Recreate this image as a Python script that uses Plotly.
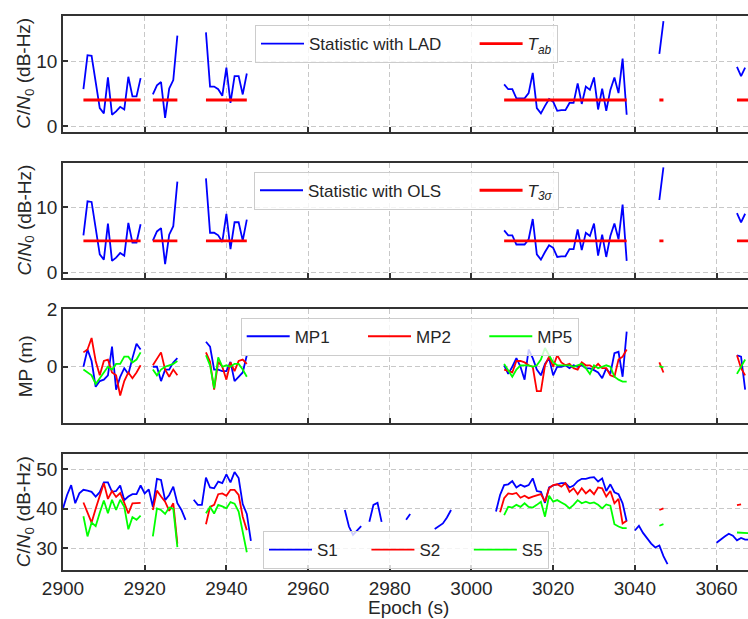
import plotly.graph_objects as go
from plotly.subplots import make_subplots

# ---------------- data ----------------
# Panel 1/2: detection statistic (same series in both panels)
stat_starts = [2905, 2922, 2935, 3008, 3046, 3065]
stat_values = [
    [5.7, 10.9, 10.8, 6.5, 2.8, 2.0, 7.5, 1.8, 2.3, 3.0, 2.6, 7.6, 4.6, 4.6, 7.4],
    [4.9, 6.3, 6.8, 1.3, 5.8, 7.1, 13.9],
    [14.4, 6.1, 6.1, 5.7, 4.7, 9.0, 3.6, 7.7, 7.7, 4.9, 8.1],
    [6.45, 5.7, 5.7, 4.3, 4.3, 4.3, 5.1, 8.2, 2.8, 2.0, 3.15, 4.2, 3.8, 2.4, 2.5,
     2.5, 3.6, 3.6, 6.6, 3.45, 6.1, 5.6, 7.5, 2.6, 5.8, 2.4, 5.6, 7.5, 5.1, 10.4, 1.8],
    [11.1, 16.1],
    [9.1, 7.7, 9.0],
]
thr_ranges = [(2905, 2919), (2922, 2928), (2935, 2945), (3008, 3038), (3046, 3047), (3065, 3068)]
T_ab = 4.05
T_3sigma = 4.85

# Panel 3: multipath
mp_starts = [2905, 2922, 2935, 3008, 3046, 3065]
MP1 = [
    [0.0, 0.6, 0.2, -0.7, -0.5, -0.45, -0.3, 0.7, -0.8, -0.35, -0.05, -0.25, 0.3, 0.8, 0.6],
    [0.0, 0.0, -0.5, -0.1, -0.1, 0.15, 0.3],
    [0.87, 0.7, -0.1, -0.1, -0.15, -0.15, 0.17, -0.5, -0.35, -0.2, 0.4],
    [0.05, -0.25, 0.0, 0.3, 0.0, -0.45, 0.6, 0.3, -0.1, -0.3, 0.1, 0.3, -0.3, 0.0, 0.0,
     0.05, -0.05, 0.05, 0.0, 0.05, -0.05, -0.06, -0.12, -0.2, -0.4, -0.06, -0.25, 0.47, 0.52, -0.35, 1.22],
    [],
    [0.4, 0.35, -0.8],
]
MP2 = [
    [0.5, 0.6, 1.0, 0.2, -0.3, 0.2, 0.25, -0.2, -0.3, -1.0, -0.5, -0.2, -0.4, -0.2, 0.05],
    [0.05, 0.3, 0.5, -0.1, -0.35, -0.1, -0.3],
    [0.5, 0.17, -0.8, 0.17, 0.0, -0.45, 0.15, -0.15, 0.2, 0.25, 0.1],
    [-0.1, -0.15, -0.2, 0.2, 0.2, 0.15, 0.05, 0.0, -0.85, -0.85, 0.05, 0.35, 0.0, 0.4, 0.15,
     0.05, 0.1, -0.05, -0.1, 0.15, 0.05, 0.05, -0.05, 0.1, -0.05, -0.05, -0.3, -0.35, 0.25, 0.35, 0.6],
    [0.15, -0.2],
    [0.4, -0.05, -0.3],
]
MP5 = [
    [-0.1, -0.2, -0.3, -0.6, -0.4, -0.2, 0.0, -0.1, 0.1, 0.1, 0.35, 0.35, 0.15, 0.25, 0.5],
    [-0.1, -0.3, -0.1, 0.0, 0.05, 0.1, 0.2],
    [0.4, 0.05, -0.75, 0.33, 0.0, 0.05, 0.0, 0.1, 0.1, -0.1, -0.35],
    [0.1, -0.15, -0.35, -0.1, 0.05, 0.05, 0.05, 0.0, 0.05, 0.25, 0.65, 0.4, 0.15, 0.05, 0.05,
     0.05, 0.05, 0.0, 0.05, 0.1, -0.05, -0.25, 0.05, -0.05, 0.0, 0.05, 0.0, -0.35, -0.45, -0.52, -0.52],
    [0.02, -0.02],
    [-0.25, 0.0, 0.25],
]

# Panel 4: C/N0
S1_starts = [2900, 2932, 2969, 2975, 2984, 2991, 3006, 3040, 3060]
S1 = [
    [40.1, 43.5, 46.0, 41.4, 43.9, 44.8, 44.6, 44.3, 43.1, 44.2, 46.7, 46.7, 44.3, 44.5, 45.9,
     42.2, 43.1, 43.7, 43.7, 45.9, 43.9, 44.9, 40.5, 47.6, 47.3, 42.2, 43.5, 45.6, 41.4, 39.7, 37.2],
    [42.3, 41.0, 41.0, 47.9, 45.4, 45.2, 46.9, 46.5, 48.7, 46.7, 49.3, 47.8, 41.2, 38.7, 31.9],
    [39.7, 35.5, 33.4, 34.5, 35.6],
    [36.7, 41.0, 41.5, 36.7],
    [37.2, 38.7],
    [34.9, 35.6, 36.3, 37.8, 39.7],
    [39.3, 43.5, 46.0, 46.2, 47.0, 45.4, 46.1, 45.6, 46.0, 47.7, 44.5, 44.3, 41.5, 45.4, 45.9,
     46.2, 46.5, 46.5, 45.4, 45.9, 47.0, 47.6, 47.6, 47.9, 48.0, 46.9, 47.7, 44.5, 46.2, 44.2,
     43.7, 41.4, 36.8],
    [34.5, 35.7, 33.9, 32.4, 31.2, 30.2, 30.7, 28.0, 26.0],
    [31.4, 32.3, 33.0, 33.7, 33.2, 32.0, 32.6, 32.2, 32.2],
]
S2_starts = [2905, 2922, 2935, 3007, 3046, 3065]
S2 = [
    [41.6, 39.0, 36.5, 40.0, 43.5, 46.5, 42.5, 44.5, 43.0, 44.0, 41.5, 38.8, 41.4, 41.5, 41.5],
    [39.7, 44.6, 43.1, 41.8, 39.5, 41.4, 31.2],
    [36.1, 40.5, 41.0, 43.7, 43.9, 43.3, 44.8, 44.8, 43.5, 38.0, 34.6],
    [39.1, 42.7, 43.9, 43.7, 44.0, 42.8, 43.3, 42.7, 43.1, 43.5, 43.7, 41.8, 45.2, 46.0, 46.2,
     45.6, 46.5, 44.3, 45.2, 43.7, 45.2, 43.9, 44.8, 43.7, 45.4, 45.2, 43.1, 44.5, 41.4, 42.5,
     36.3, 37.0],
    [39.7, 40.1],
    [40.9, 41.1],
]
S5_starts = [2905, 2922, 2935, 3008, 3046, 3065]
S5 = [
    [38.1, 33.0, 36.5, 35.6, 39.0, 42.1, 38.9, 42.3, 39.7, 42.3, 40.5, 34.8, 37.9, 37.2, 38.3],
    [33.0, 40.1, 39.7, 38.7, 40.3, 40.0, 30.3],
    [38.9, 40.5, 38.8, 41.0, 40.6, 40.1, 41.7, 41.3, 39.3, 34.3, 29.0],
    [38.4, 40.5, 40.3, 41.0, 40.5, 41.4, 40.5, 40.3, 41.0, 41.8, 38.0, 43.3, 41.8, 42.2, 41.6,
     41.0, 40.1, 41.0, 42.2, 41.4, 41.8, 41.4, 41.6, 41.0, 40.1, 41.1, 40.8, 36.1, 35.5, 35.1, 35.1],
    [35.7, 36.1],
    [34.0, 33.9, 33.8, 33.8],
]

x_ticks = [2900, 2920, 2940, 2960, 2980, 3000, 3020, 3040, 3060]


def join(starts, segs):
    xs, ys = [], []
    for s, vals in zip(starts, segs):
        if not vals:
            continue
        xs += [s + i for i in range(len(vals))] + [None]
        ys += list(vals) + [None]
    return xs, ys


def thr_line(value):
    xs, ys = [], []
    for a, b in thr_ranges:
        xs += [a, b, None]
        ys += [value, value, None]
    return xs, ys


BLUE, RED, GREEN = "#0000ff", "#ff0000", "#00ff00"
TXT = "#262626"
FONT = "Liberation Sans, Arial, Helvetica, sans-serif"
LW = 1.8


def pad(n):
    return "\u00a0" * n


fig = make_subplots(rows=4, cols=1, shared_xaxes=False)

# panel 1
x, y = join(stat_starts, stat_values)
fig.add_trace(go.Scatter(x=x, y=y, mode="lines", line=dict(color=BLUE, width=LW),
                         name="Statistic with LAD" + pad(6), legend="legend"), row=1, col=1)
x, y = thr_line(T_ab)
fig.add_trace(go.Scatter(x=x, y=y, mode="lines", line=dict(color=RED, width=2.8),
                         name="<i>T<sub>ab</sub></i>", legend="legend"), row=1, col=1)
# panel 2
x, y = join(stat_starts, stat_values)
fig.add_trace(go.Scatter(x=x, y=y, mode="lines", line=dict(color=BLUE, width=LW),
                         name="Statistic with OLS" + pad(6), legend="legend2"), row=2, col=1)
x, y = thr_line(T_3sigma)
fig.add_trace(go.Scatter(x=x, y=y, mode="lines", line=dict(color=RED, width=2.8),
                         name="<i>T<sub>3σ</sub></i>", legend="legend2"), row=2, col=1)
# panel 3
for name, segs, col in [("MP1" + pad(6), MP1, BLUE), ("MP2" + pad(6), MP2, RED), ("MP5", MP5, GREEN)]:
    x, y = join(mp_starts, segs)
    fig.add_trace(go.Scatter(x=x, y=y, mode="lines", line=dict(color=col, width=LW),
                             name=name, legend="legend3"), row=3, col=1)
# panel 4
for name, starts, segs, col in [("S1" + pad(5), S1_starts, S1, BLUE),
                                ("S2" + pad(5), S2_starts, S2, RED),
                                ("S5", S5_starts, S5, GREEN)]:
    x, y = join(starts, segs)
    fig.add_trace(go.Scatter(x=x, y=y, mode="lines", line=dict(color=col, width=LW),
                             name=name, legend="legend4"), row=4, col=1)

W, H = 748, 619
ml, mr, mt, mb = 63, 0, 16, 49
ph = H - mt - mb
pw = W - ml - mr


def py2p(py):
    return (H - mb - py) / ph


domains = [(15.7, 131.7), (162.7, 278.3), (309.3, 423.3), (454.3, 570.0)]
yranges = [[-0.8, 16.9], [-0.86, 16.8], [-1.97, 2.0], [24.5, 53.8]]
yticks = [[0, 10], [0, 10], [0, 2], [30, 40, 50]]

axis_common = dict(showline=True, linecolor="#333333", linewidth=1.8,
                   ticks="inside", ticklen=5, tickwidth=1.5, tickcolor="#333333",
                   showgrid=True, gridcolor="#c8c8c8", gridwidth=1, griddash="5px,3px",
                   zeroline=False, tickfont=dict(size=19, color=TXT, family=FONT))

for i in range(4):
    top, bot = domains[i]
    fig.update_yaxes(row=i + 1, col=1, domain=[py2p(bot), min(1.0, py2p(top))],
                     range=yranges[i], tickvals=yticks[i], mirror=False, **axis_common)
    fig.update_xaxes(row=i + 1, col=1, range=[2900, 3067.7], tickvals=x_ticks,
                     showticklabels=(i == 3), mirror=True, **axis_common)

leg_common = dict(orientation="h", xanchor="left", yanchor="top",
                  bgcolor="rgba(255,255,255,0.8)", bordercolor="#cccccc", borderwidth=1,
                  font=dict(size=17, color=TXT, family=FONT), itemwidth=43,
                  traceorder="normal")

annotations = []
ylabels = ["<i>C</i>/<i>N</i><sub>0</sub> (dB-Hz)", "<i>C</i>/<i>N</i><sub>0</sub> (dB-Hz)",
           "MP (m)", "<i>C</i>/<i>N</i><sub>0</sub> (dB-Hz)"]
for i, lab in enumerate(ylabels):
    top, bot = domains[i]
    annotations.append(dict(text=lab, xref="paper", yref="paper", x=(25 - ml) / pw,
                            y=py2p((top + bot) / 2), xanchor="center", yanchor="middle",
                            textangle=-90, showarrow=False,
                            font=dict(size=19, color=TXT, family=FONT)))
annotations.append(dict(text="Epoch (s)", xref="paper", yref="paper", x=(408 - ml) / pw,
                        y=py2p(607), xanchor="center", yanchor="middle", showarrow=False,
                        font=dict(size=19, color=TXT, family=FONT)))

fig.update_layout(
    width=W, height=H, margin=dict(l=ml, r=mr, t=mt, b=mb),
    paper_bgcolor="white", plot_bgcolor="white",
    font=dict(family=FONT, color=TXT),
    showlegend=True,
    legend=dict(x=(255 - ml) / pw, y=py2p(25), **leg_common),
    legend2=dict(x=(254 - ml) / pw, y=py2p(171.7), **leg_common),
    legend3=dict(x=(240.7 - ml) / pw, y=py2p(317.7), **leg_common),
    legend4=dict(x=(263 - ml) / pw, y=py2p(531), **leg_common),
    annotations=annotations,
)

fig.write_html("out.html", config={"displayModeBar": False},
               post_script="document.body.style.margin='0';document.body.style.overflow='hidden';")
